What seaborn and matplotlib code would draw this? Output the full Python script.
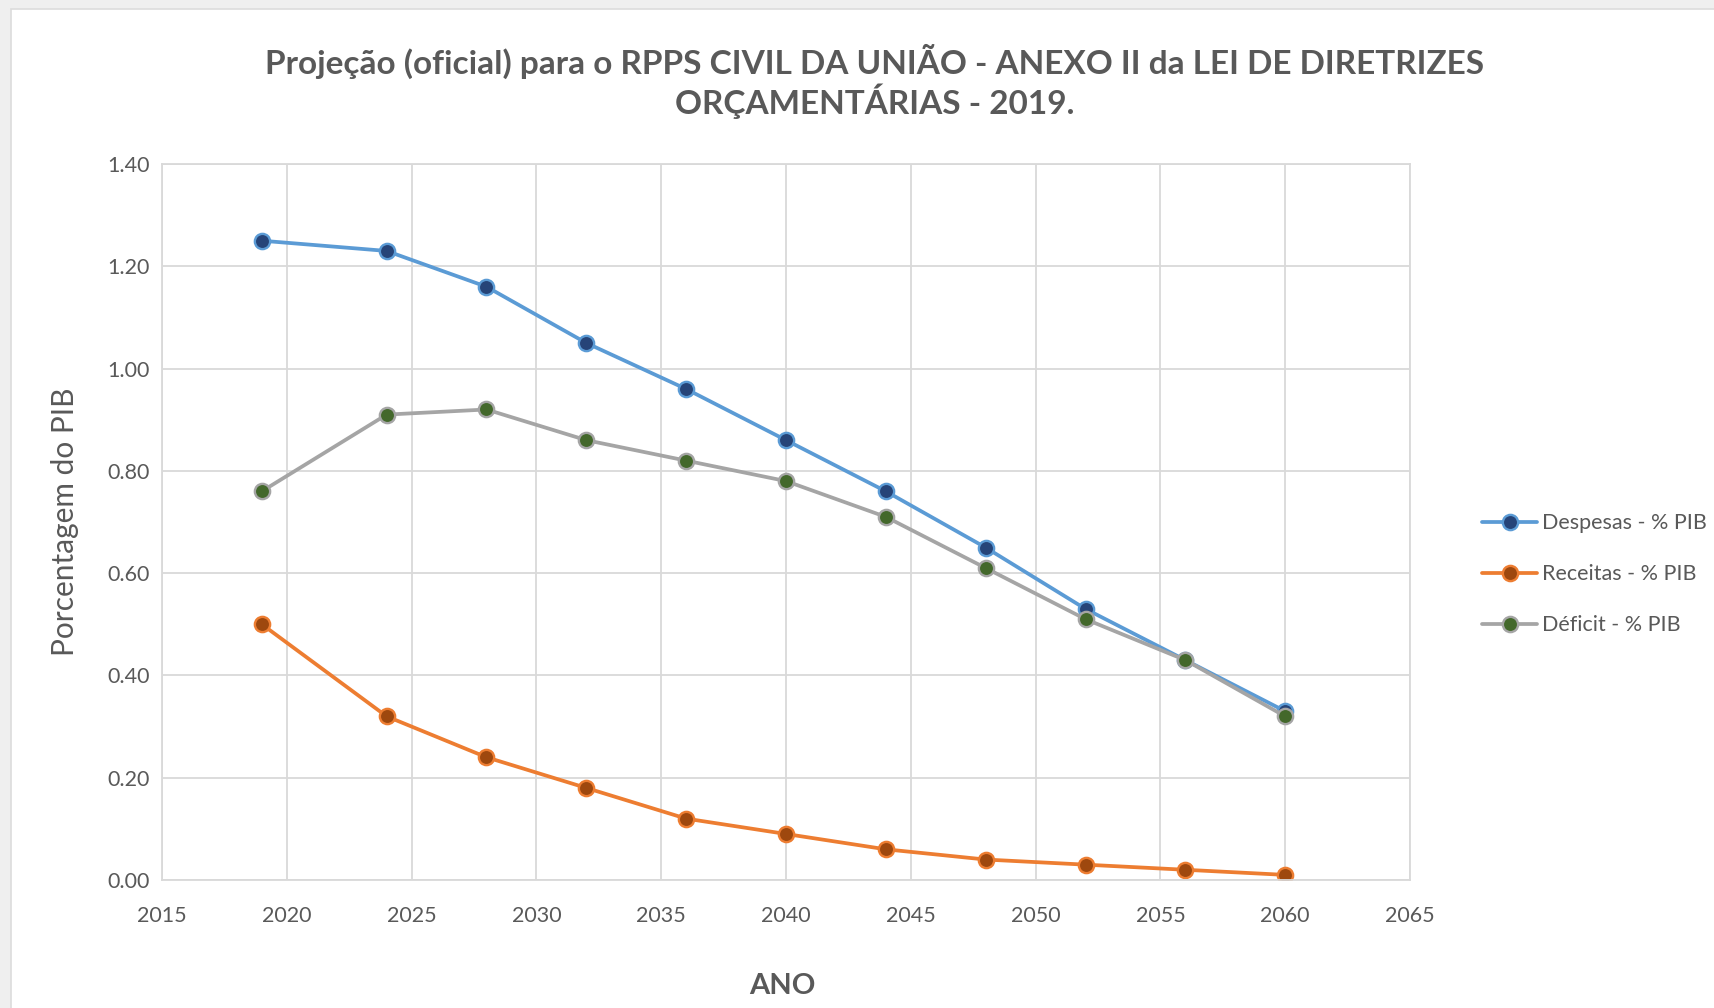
import matplotlib
matplotlib.use("Agg")
import matplotlib.pyplot as plt
import seaborn as sns
import pandas as pd
from matplotlib.patches import Rectangle

anos = [2019, 2024, 2028, 2032, 2036, 2040, 2044, 2048, 2052, 2056, 2060]
despesas = [1.25, 1.23, 1.16, 1.05, 0.96, 0.86, 0.76, 0.65, 0.53, 0.43, 0.33]
receitas = [0.50, 0.32, 0.24, 0.18, 0.12, 0.09, 0.06, 0.04, 0.03, 0.02, 0.01]
deficit = [0.76, 0.91, 0.92, 0.86, 0.82, 0.78, 0.71, 0.61, 0.51, 0.43, 0.32]

series = [
    ("Despesas - % PIB", despesas, "#5B9BD5", "#264478"),
    ("Receitas - % PIB", receitas, "#ED7D31", "#9E480E"),
    ("Déficit - % PIB", deficit, "#A5A5A5", "#43682B"),
]

sns.set_theme(style="white")
FONT = ["Lato", "DejaVu Sans"]
plt.rcParams["font.family"] = FONT
TXT = "#595959"

fig = plt.figure(figsize=(17.15, 10.08), dpi=100, facecolor="#efefef")
fig.patches.append(Rectangle((11 / 1715, -0.01), 1.01 - 11 / 1715, 1.01 - 9 / 1008,
                             transform=fig.transFigure, facecolor="white",
                             edgecolor="#dcdcdc", linewidth=1.2, zorder=-5))
ax = fig.add_axes([162 / 1715, 1 - 880 / 1008, (1410 - 162) / 1715, (880 - 164) / 1008])
ax.set_facecolor("white")
ax.set_zorder(2)

for name, vals, lc, fc in series:
    df = pd.DataFrame({"ano": anos, "valor": vals})
    sns.lineplot(data=df, x="ano", y="valor", ax=ax, color=lc, linewidth=2.7,
                 marker="o", markersize=11, markerfacecolor=fc,
                 markeredgecolor=lc, markeredgewidth=1.7, label=name)

ax.set_xlim(2015, 2065)
ax.set_ylim(0, 1.4)
ax.set_xticks(range(2015, 2066, 5))
ax.set_yticks([i * 0.2 for i in range(8)])
ax.set_yticklabels([f"{i * 0.2:.2f}" for i in range(8)])
ax.grid(True, color="#d9d9d9", linewidth=1.3)
ax.set_axisbelow(True)
for s in ax.spines.values():
    s.set_color("#d9d9d9")
    s.set_linewidth(1.3)
ax.tick_params(axis="both", length=0, labelsize=15.5, colors=TXT, pad=9)
ax.tick_params(axis="x", pad=19)

ax.set_xlabel("")
ax.set_ylabel("Porcentagem do PIB", fontsize=21.5, color=TXT, labelpad=20)
fig.text(782 / 1715, 1 - 986 / 1008, "ANO", ha="center", va="center",
         fontsize=21, fontweight="bold", color=TXT)

fig.text(875 / 1715, 1 - 81 / 1008,
         "Projeção (oficial) para o RPPS CIVIL DA UNIÃO - ANEXO II da LEI DE DIRETRIZES\nORÇAMENTÁRIAS - 2019.",
         ha="center", va="center", fontsize=24, fontweight="bold", color=TXT,
         linespacing=1.15)

leg = ax.legend(loc="center left", bbox_to_anchor=(1.058, 0.427), frameon=False,
                fontsize=15.5, handlelength=2.55, handletextpad=0.2,
                labelspacing=1.45, labelcolor=TXT, borderaxespad=0, borderpad=0)

fig.savefig("out.png", dpi=100, facecolor=fig.get_facecolor())
